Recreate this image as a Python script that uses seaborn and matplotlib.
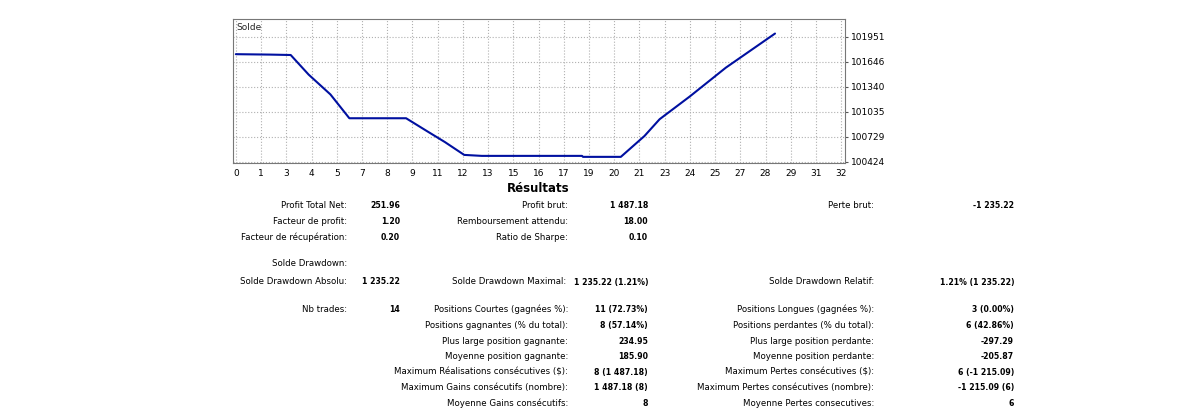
import numpy as np
import pandas as pd
import matplotlib
matplotlib.use('Agg')
import matplotlib.pyplot as plt
import seaborn as sns

# balance curve
trade_x = [0, 1.8, 2.9, 3.85, 5.0, 6.0, 9.0, 10.1, 11.05, 12.07, 13.0, 18.3, 18.35, 20.35, 21.6, 22.4, 24.0, 25.9, 28.5]
balance = [101740, 101735, 101730, 101490, 101248, 100957, 100957, 100800, 100666, 100509, 100497, 100497, 100485, 100485, 100740, 100945, 101224, 101575, 101992]
x_labels = [0, 1, 3, 4, 5, 7, 8, 9, 11, 12, 13, 15, 16, 17, 19, 20, 21, 23, 24, 25, 27, 28, 29, 31, 32]
y_ticks = [100424, 100729, 101035, 101340, 101646, 101951]

# results table: (label, value, label x, value x, y) in pixels
rows = [
    ('Profit Total Net:', '251.96', 347, 400, 205),
    ('Facteur de profit:', '1.20', 347, 400, 221),
    ('Facteur de récupération:', '0.20', 347, 400, 237),
    ('Profit brut:', '1 487.18', 568, 648, 205),
    ('Remboursement attendu:', '18.00', 568, 648, 221),
    ('Ratio de Sharpe:', '0.10', 568, 648, 237),
    ('Perte brut:', '-1 235.22', 874, 1014, 205),
    ('Solde Drawdown:', '', 347, 400, 264),
    ('Solde Drawdown Absolu:', '1 235.22', 347, 400, 282),
    ('Solde Drawdown Maximal:', '1 235.22 (1.21%)', 566, 648, 282),
    ('Solde Drawdown Relatif:', '1.21% (1 235.22)', 874, 1014, 282),
    ('Nb trades:', '14', 347, 400, 309),
    ('Positions Courtes (gagnées %):', '11 (72.73%)', 568, 648, 309),
    ('Positions gagnantes (% du total):', '8 (57.14%)', 568, 648, 325),
    ('Plus large position gagnante:', '234.95', 568, 648, 341),
    ('Moyenne position gagnante:', '185.90', 568, 648, 356),
    ('Maximum Réalisations consécutives ($):', '8 (1 487.18)', 568, 648, 372),
    ('Maximum Gains consécutifs (nombre):', '1 487.18 (8)', 568, 648, 387),
    ('Moyenne Gains consécutifs:', '8', 568, 648, 403),
    ('Positions Longues (gagnées %):', '3 (0.00%)', 874, 1014, 309),
    ('Positions perdantes (% du total):', '6 (42.86%)', 874, 1014, 325),
    ('Plus large position perdante:', '-297.29', 874, 1014, 341),
    ('Moyenne position perdante:', '-205.87', 874, 1014, 356),
    ('Maximum Pertes consécutives ($):', '6 (-1 215.09)', 874, 1014, 372),
    ('Maximum Pertes consécutives (nombre):', '-1 215.09 (6)', 874, 1014, 387),
    ('Moyenne Pertes consecutives:', '6', 874, 1014, 403),
]

sns.set_style('white')
plt.rcParams['font.family'] = ['DejaVu Sans']
W, H = 1200, 419
fig = plt.figure(figsize=(12, 4.19), dpi=100)
ax = fig.add_axes([233 / W, 1 - 163 / H, (845 - 233) / W, (163 - 19) / H])

df = pd.DataFrame({'x': trade_x, 'balance': balance})
sns.lineplot(data=df, x='x', y='balance', ax=ax, color='#0010a0', linewidth=1.5)

ax.set_xlim(-0.15, 32.2)
ax.set_ylim(100410, 102170)
ax.set_xticks(np.linspace(0, 32, len(x_labels)))
ax.set_xticklabels(x_labels, fontsize=6.5, color='black')
ax.yaxis.tick_right()
ax.set_yticks(y_ticks)
ax.set_yticklabels(y_ticks, fontsize=6.5, color='black')
ax.tick_params(length=2, pad=2, color='#555555')
ax.grid(True, linestyle=':', color='#b0b0b0', linewidth=0.8)
ax.set_xlabel('')
ax.set_ylabel('')
for s in ax.spines.values():
    s.set_color('#777777')
    s.set_linewidth(0.8)
ax.text(0.005, 0.97, 'Solde', transform=ax.transAxes, fontsize=6.5, va='top')

fig.text(538 / W, 1 - 188 / H, 'Résultats', ha='center', va='center', fontsize=8.5, fontweight='bold', color='black')
for label, value, lx, vx, y in rows:
    fig.text(lx / W, 1 - y / H, label, ha='right', va='center', fontsize=6.2, color='black')
    if value:
        fig.text(vx / W, 1 - y / H, value, ha='right', va='center', fontsize=6.2,
                 fontweight='bold', color='black', fontstretch='condensed')

fig.savefig('out.png', dpi=100)
